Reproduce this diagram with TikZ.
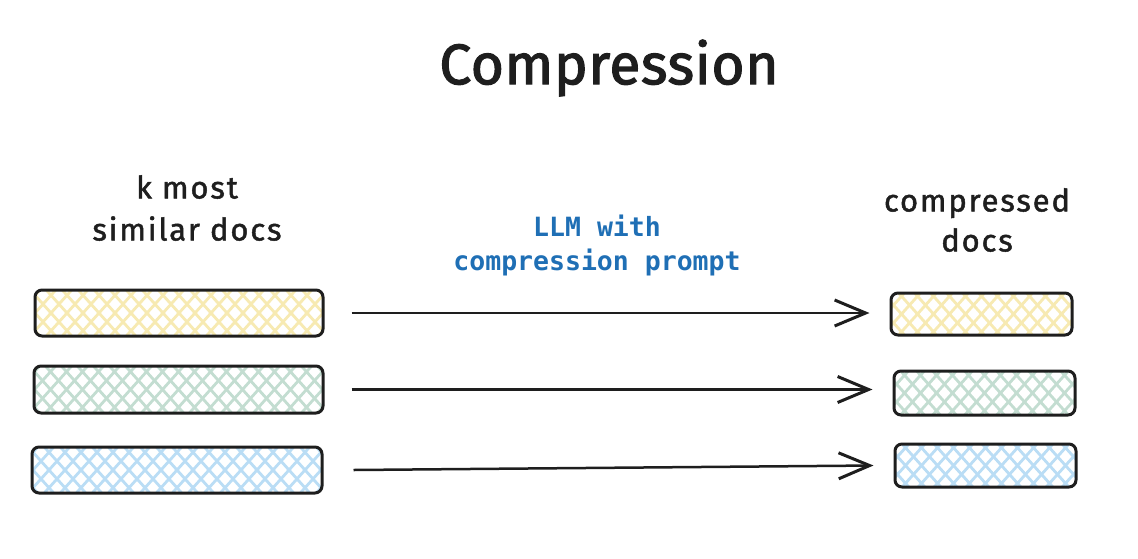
\documentclass[tikz,border=0pt]{standalone}
\usepackage{fontspec}
\setmainfont{Fira Sans}
\newfontfamily\handf{Fira Sans}[LetterSpace=6, FakeBold=1.5]
\newfontfamily\titlef{Fira Sans}[LetterSpace=1, FakeBold=2]
\newfontfamily\monof{DejaVu Sans Mono}
\usetikzlibrary{arrows.meta}
\definecolor{ink}{HTML}{1E1E1E}
\definecolor{hyel}{HTML}{F7EAB2}
\definecolor{hgrn}{HTML}{C3DDD1}
\definecolor{hblu}{HTML}{BADDF5}
\definecolor{llm}{HTML}{1F6FB5}
\tikzset{
  hatch/.style={path picture={
    \begin{scope}[shift={(path picture bounding box.center)}]
      \foreach \i in {-256,-240,...,256}{
        \draw[#1, line width=2.8pt] (\i-36,-40) -- (\i+36,40);
        \draw[#1, line width=2.8pt] (\i-36,40) -- (\i+36,-40);
      }
    \end{scope}}},
  docbox/.style={draw=ink, line width=3pt, rounded corners=7pt, fill=white, inner sep=0pt},
  arr/.style={draw=ink, line width=2.5pt, -{Straight Barb[length=31pt,width=26pt,line width=3pt]}},
  hand/.style={text=ink, align=center, font=\handf\fontsize{31}{42}\selectfont},
}
\begin{document}
\begin{tikzpicture}[x=1pt,y=-1pt]
\useasboundingbox (0,0) rectangle (1138,558);
% title
\node[text=ink, font=\titlef\fontsize{57}{60}\selectfont] (title) at (609,68) {Compression};
\node[hand] (lbl) at (187,208) {k most\\similar docs};
\node[hand, font=\handf\fontsize{31}{40}\selectfont] (rbl) at (977,220) {compressed\\docs};
\node[text=llm, align=center, font=\monof\bfseries\fontsize{26.5}{34}\selectfont] (llm) at (597,245) {LLM with\\compression prompt};
% left boxes
\node[docbox, hatch=hyel, minimum width=288pt, minimum height=46pt] (l1) at (179,313) {};
\node[docbox, hatch=hgrn, minimum width=289pt, minimum height=47pt] (l2) at (178.5,389.5) {};
\node[docbox, hatch=hblu, minimum width=290pt, minimum height=46pt] (l3) at (177,470) {};
% right boxes
\node[docbox, hatch=hyel, minimum width=181pt, minimum height=42pt] (r1) at (981.5,314) {};
\node[docbox, hatch=hgrn, minimum width=181pt, minimum height=44pt] (r2) at (984.5,393) {};
\node[docbox, hatch=hblu, minimum width=181pt, minimum height=43pt] (r3) at (985.5,465.5) {};
% arrows
\draw[arr] ([xshift=27pt]l1.east) -- ([xshift=-20pt]r1.west |- l1.east);
\draw[arr] ([xshift=27pt]l2.east) -- ([xshift=-20pt]r2.west |- l2.east);
\draw[arr] ([xshift=30pt]l3.east) -- ([xshift=-20pt]r3.west |- r3.west);
\end{tikzpicture}
\end{document}
